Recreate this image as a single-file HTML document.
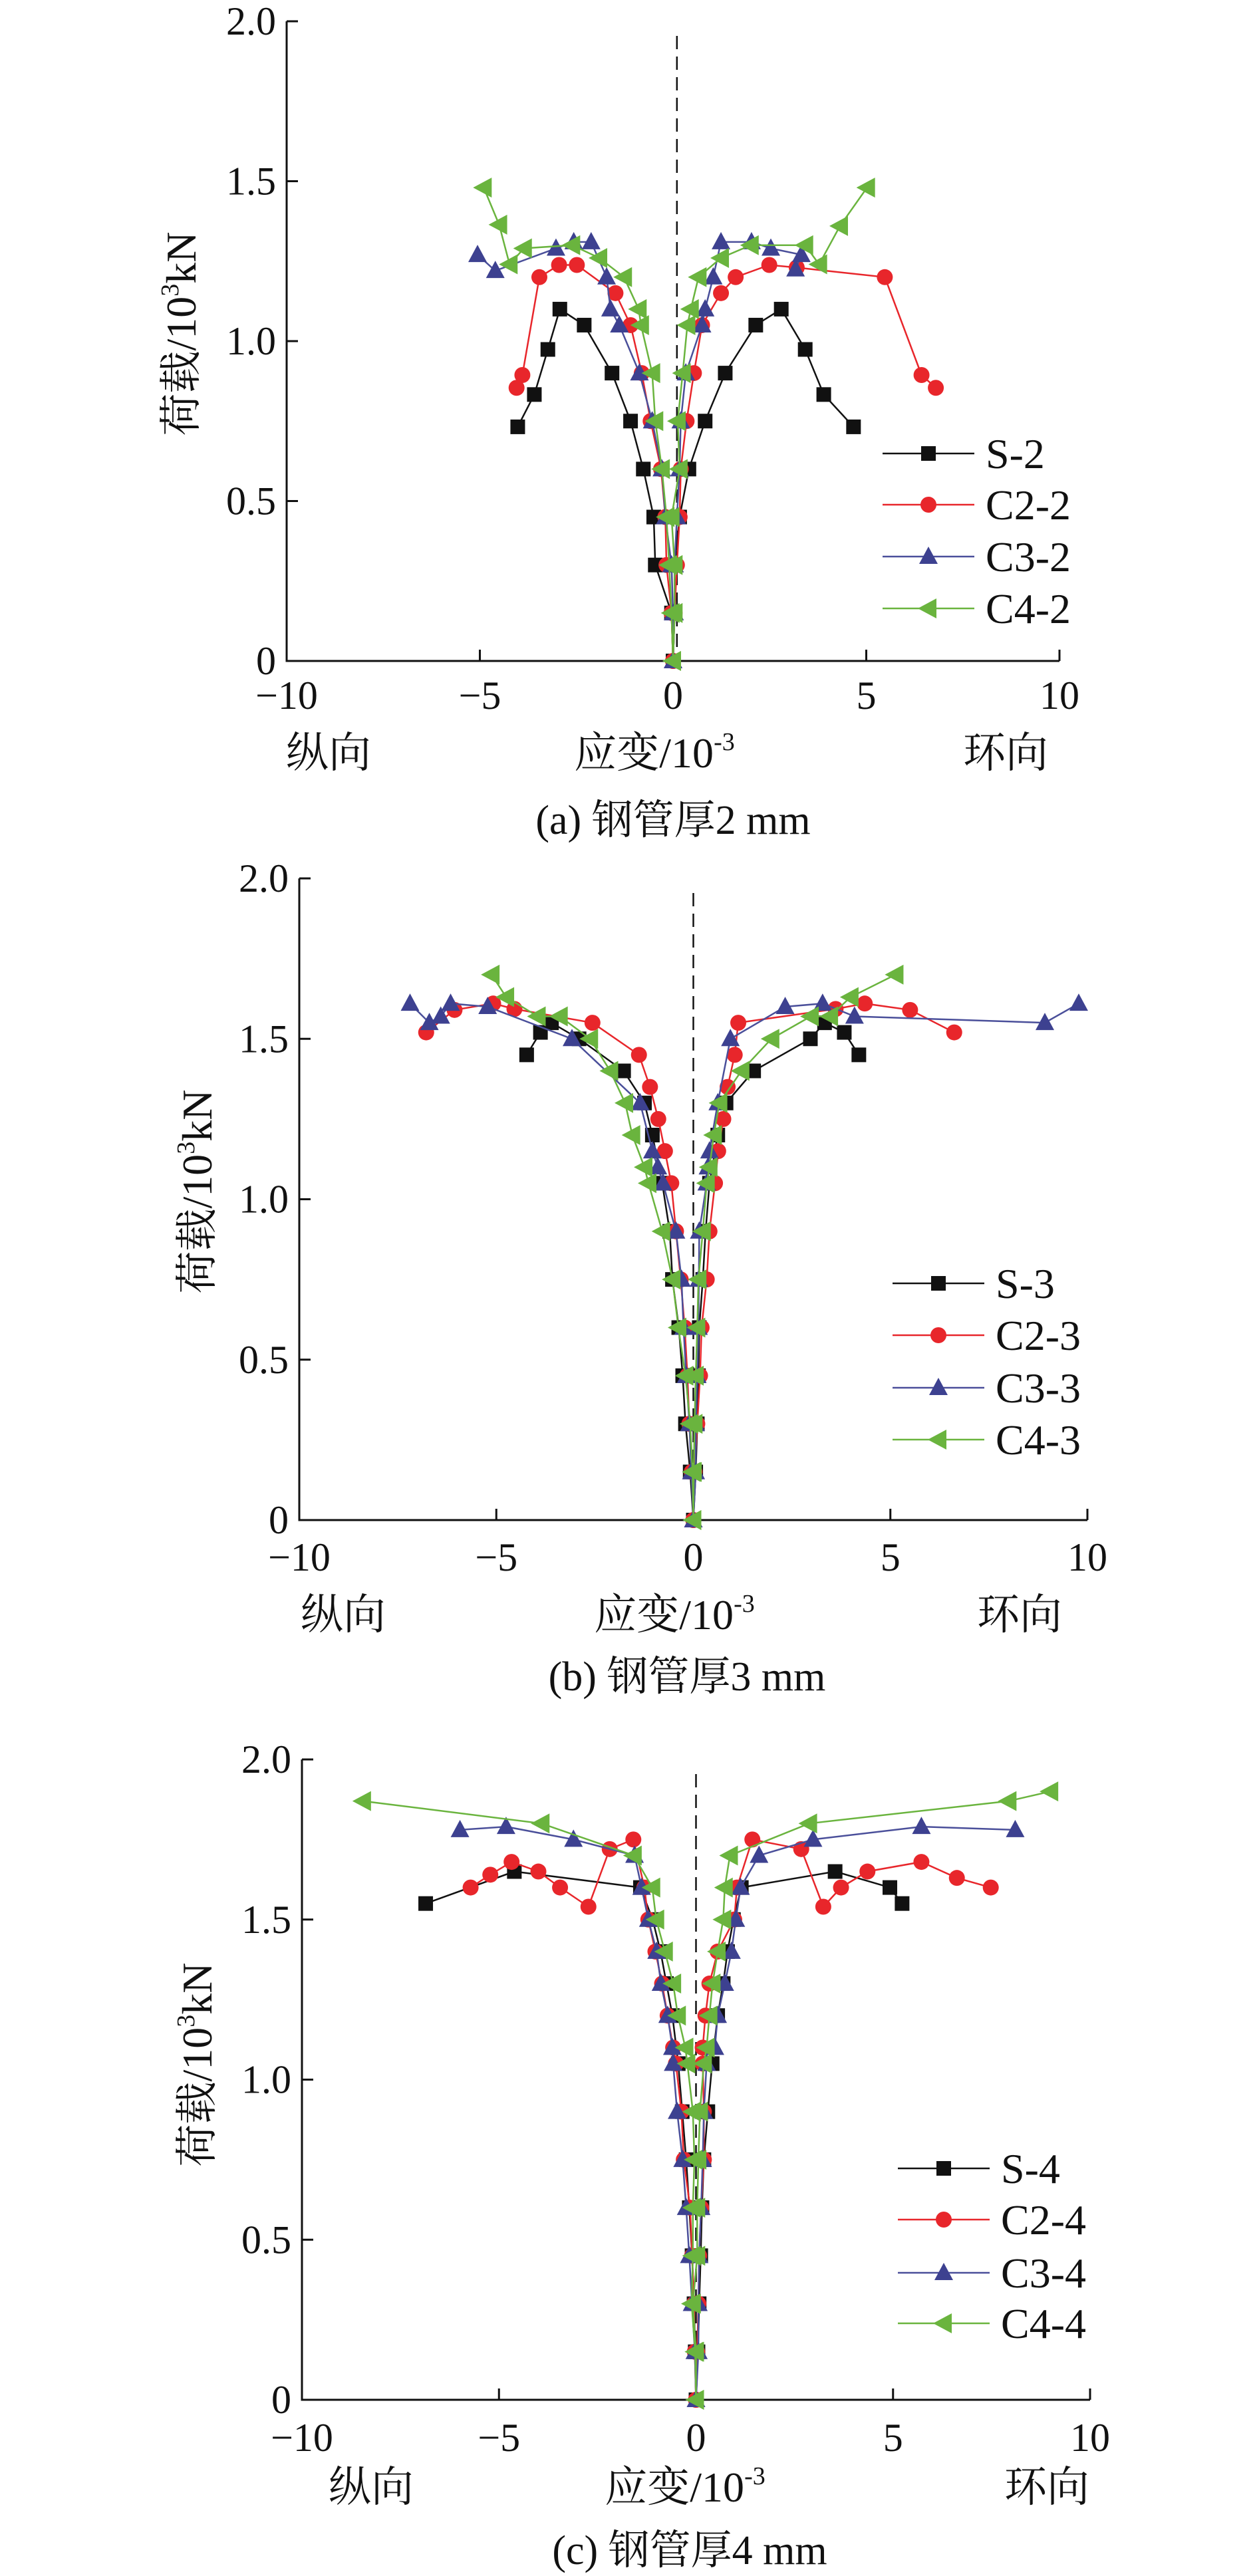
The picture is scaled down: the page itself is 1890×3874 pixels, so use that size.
<!DOCTYPE html>
<html><head><meta charset="utf-8">
<style>
html,body{margin:0;padding:0;background:#fff;}
svg{display:block;}
text{font-family:"Liberation Serif","Noto Serif CJK SC","Noto Sans CJK SC",serif;fill:#111;}
</style></head>
<body>
<svg id="fig" width="1890" height="3874" viewBox="0 0 1890 3874" xmlns="http://www.w3.org/2000/svg"></svg>
<script>
// ---------- shared axis data ----------
const xTicks = [-10, -5, 0, 5, 10];
const yTicks = [0, 0.5, 1.0, 1.5, 2.0];
const yTickLabels = ["0", "0.5", "1.0", "1.5", "2.0"];
const seriesNamesA = ["S-2", "C2-2", "C3-2", "C4-2"];
const seriesNamesB = ["S-3", "C2-3", "C3-3", "C4-3"];
const seriesNamesC = ["S-4", "C2-4", "C3-4", "C4-4"];
const captions = ["(a) 钢管厚2 mm", "(b) 钢管厚3 mm", "(c) 钢管厚4 mm"];

// ---------- chart (a) ----------
const aS_Lload = [0,0.15,0.3,0.45,0.6,0.75,0.9,1.05,1.1,0.974,0.833,0.732];
const aS_Lstrain = [0,-0.04,-0.46,-0.5,-0.77,-1.1,-1.58,-2.3,-2.93,-3.24,-3.59,-4.02];
const aS_Rload = [0,0.15,0.3,0.45,0.6,0.75,0.9,1.05,1.1,0.974,0.833,0.732];
const aS_Rstrain = [0,0.04,0.04,0.17,0.41,0.83,1.35,2.14,2.8,3.42,3.9,4.67];
const aC2_Lload = [0,0.15,0.3,0.45,0.6,0.75,0.9,1.05,1.15,1.238,1.238,1.2,0.894,0.854];
const aC2_Lstrain = [0,-0.04,-0.17,-0.2,-0.31,-0.58,-0.81,-1.1,-1.49,-2.49,-2.95,-3.46,-3.9,-4.05];
const aC2_Rload = [0,0.15,0.3,0.45,0.6,0.75,0.9,1.05,1.15,1.2,1.238,1.23,1.2,0.894,0.854];
const aC2_Rstrain = [0,0.04,0.1,0.17,0.2,0.35,0.54,0.75,1.24,1.62,2.49,3.2,5.48,6.43,6.8];
const aC3_Lload = [0,0.15,0.3,0.45,0.6,0.75,0.9,1.05,1.1,1.2,1.31,1.31,1.29,1.22,1.27];
const aC3_Lstrain = [0,0,-0.04,-0.2,-0.29,-0.54,-0.87,-1.39,-1.62,-1.72,-2.12,-2.57,-3.03,-4.6,-5.06];
const aC3_Rload = [0,0.15,0.3,0.45,0.6,0.75,0.9,1.05,1.1,1.2,1.31,1.31,1.29,1.27,1.225];
const aC3_Rstrain = [0,0.04,0.04,0.1,0.17,0.2,0.33,0.75,0.83,1.04,1.24,2.03,2.53,3.32,3.17];
const aC4_Lload = [0,0.15,0.3,0.45,0.6,0.75,0.9,1.05,1.1,1.2,1.26,1.3,1.29,1.24,1.364,1.48];
const aC4_Lstrain = [0,-0.04,-0.1,-0.17,-0.29,-0.46,-0.54,-0.83,-0.89,-1.27,-1.91,-2.61,-3.86,-4.23,-4.5,-4.9];
const aC4_Rload = [0,0.15,0.3,0.45,0.6,0.75,0.9,1.05,1.1,1.2,1.26,1.3,1.3,1.24,1.36,1.48];
const aC4_Rstrain = [0,0.04,0.04,-0.04,0.17,0.12,0.25,0.37,0.46,0.66,1.24,2.01,3.42,3.78,4.32,5.02];

// ---------- chart (b) ----------
const bS_Lload = [0,0.15,0.3,0.45,0.6,0.75,0.9,1.05,1.2,1.3,1.4,1.5,1.55,1.52,1.45];
const bS_Lstrain = [0,-0.08,-0.2,-0.27,-0.37,-0.53,-0.6,-0.79,-1.04,-1.24,-1.77,-2.9,-3.6,-3.88,-4.23];
const bS_Rload = [0,0.15,0.3,0.45,0.6,0.75,0.9,1.05,1.2,1.3,1.4,1.5,1.55,1.52,1.45];
const bS_Rstrain = [0,0.06,0.1,0.13,0.15,0.24,0.31,0.41,0.62,0.83,1.53,2.97,3.33,3.83,4.2];
const bC2_Lload = [0,0.15,0.3,0.45,0.6,0.75,0.9,1.05,1.15,1.25,1.35,1.45,1.55,1.593,1.61,1.59,1.52];
const bC2_Lstrain = [0,-0.04,-0.1,-0.15,-0.22,-0.32,-0.44,-0.56,-0.72,-0.89,-1.1,-1.38,-2.56,-4.54,-5.08,-6.06,-6.78];
const bC2_Rload = [0,0.15,0.3,0.45,0.6,0.75,0.9,1.05,1.15,1.25,1.35,1.45,1.55,1.593,1.61,1.59,1.52];
const bC2_Rstrain = [0,0.03,0.1,0.17,0.21,0.34,0.41,0.55,0.63,0.76,0.87,1.05,1.14,3.61,4.35,5.5,6.62];
const bC3_Lload = [0,0.15,0.3,0.45,0.6,0.75,0.9,1.05,1.1,1.15,1.3,1.5,1.6,1.61,1.57,1.55,1.61];
const bC3_Lstrain = [0,-0.05,-0.1,-0.18,-0.25,-0.3,-0.44,-0.77,-0.9,-1.04,-1.35,-3.08,-5.22,-6.16,-6.41,-6.7,-7.19];
const bC3_Rload = [0,0.15,0.3,0.45,0.6,0.75,0.9,1.05,1.1,1.15,1.3,1.5,1.6,1.61,1.57,1.55,1.61];
const bC3_Rstrain = [0,0.06,0.06,0.1,0.13,0.14,0.15,0.34,0.37,0.41,0.62,0.94,2.33,3.28,4.09,8.92,9.78];
const bC4_Lload = [0,0.15,0.3,0.45,0.6,0.75,0.9,1.05,1.1,1.2,1.3,1.4,1.5,1.57,1.57,1.63,1.7];
const bC4_Lstrain = [0,-0.02,-0.08,-0.2,-0.38,-0.53,-0.79,-1.14,-1.24,-1.55,-1.73,-2.11,-2.62,-3.39,-3.95,-4.75,-5.12];
const bC4_Rload = [0,0.15,0.3,0.45,0.6,0.75,0.9,1.05,1.1,1.2,1.3,1.4,1.5,1.57,1.57,1.63,1.7];
const bC4_Rstrain = [0,0.01,0.03,0.06,0.1,0.13,0.24,0.34,0.41,0.52,0.66,1.22,1.98,2.98,3.47,3.99,5.13];

// ---------- chart (c) ----------
const cS_Lload = [0,0.15,0.3,0.45,0.6,0.75,0.9,1.05,1.2,1.3,1.4,1.5,1.6,1.65,1.55];
const cS_Lstrain = [0,-0.02,-0.05,-0.1,-0.17,-0.25,-0.35,-0.45,-0.6,-0.75,-0.9,-1.1,-1.41,-4.61,-6.86];
const cS_Rload = [0,0.15,0.3,0.45,0.6,0.75,0.9,1.05,1.2,1.3,1.4,1.5,1.6,1.65,1.6,1.55];
const cS_Rstrain = [0,0.05,0.08,0.12,0.15,0.2,0.3,0.41,0.55,0.69,0.8,0.95,1.15,3.53,4.92,5.23];
const cC2_Lload = [0,0.15,0.3,0.45,0.6,0.75,0.9,1.05,1.1,1.2,1.3,1.4,1.5,1.6,1.75,1.72,1.54,1.6,1.65,1.68,1.64,1.6];
const cC2_Lstrain = [0,-0.03,-0.05,-0.1,-0.15,-0.31,-0.37,-0.51,-0.58,-0.72,-0.86,-1.03,-1.21,-1.31,-1.59,-2.19,-2.73,-3.45,-4.0,-4.68,-5.22,-5.72];
const cC2_Rload = [0,0.15,0.3,0.45,0.6,0.75,0.9,1.05,1.1,1.2,1.3,1.4,1.5,1.6,1.75,1.72,1.54,1.6,1.65,1.68,1.63,1.6];
const cC2_Rstrain = [0,0.03,0.06,0.08,0.13,0.2,0.2,0.17,0.17,0.24,0.34,0.55,0.97,1.04,1.43,2.67,3.23,3.68,4.35,5.72,6.62,7.48];
const cC3_Lload = [0,0.15,0.3,0.45,0.6,0.75,0.9,1.05,1.1,1.2,1.3,1.4,1.5,1.6,1.7,1.75,1.79,1.78];
const cC3_Lstrain = [0,-0.03,-0.1,-0.17,-0.25,-0.34,-0.48,-0.58,-0.6,-0.72,-0.89,-1.0,-1.21,-1.38,-1.56,-3.11,-4.82,-5.99];
const cC3_Rload = [0,0.15,0.3,0.45,0.6,0.75,0.9,1.05,1.1,1.2,1.3,1.4,1.5,1.6,1.7,1.75,1.79,1.78];
const cC3_Rstrain = [0,0.06,0.06,0.08,0.13,0.17,0.2,0.27,0.48,0.55,0.73,0.9,1.01,1.13,1.6,2.97,5.72,8.1];
const cC4_Lload = [0,0.15,0.3,0.45,0.6,0.75,0.9,1.05,1.1,1.2,1.3,1.4,1.5,1.6,1.7,1.8,1.87];
const cC4_Lstrain = [0,-0.02,-0.11,-0.08,-0.08,-0.04,-0.08,-0.22,-0.27,-0.46,-0.58,-0.79,-1.01,-1.11,-1.58,-3.92,-8.45];
const cC4_Rload = [0,0.15,0.3,0.45,0.6,0.75,0.9,1.05,1.1,1.2,1.3,1.4,1.5,1.6,1.7,1.8,1.87,1.9];
const cC4_Rstrain = [0,0,-0.08,0.03,0.03,0.06,0.1,0.2,0.27,0.34,0.42,0.55,0.69,0.73,0.86,2.87,7.93,8.99];

const NS = "http://www.w3.org/2000/svg";
const svg = document.getElementById('fig');
const styles = [
  {line:"#111111", fill:"#111111", marker:"square"},
  {line:"#e8262b", fill:"#e8262b", marker:"circle"},
  {line:"#4a4f9a", fill:"#3d4190", marker:"triangle"},
  {line:"#6ab43e", fill:"#6ab43e", marker:"tleft"}
];
function mk(tag, attrs, parent){
  const e = document.createElementNS(NS, tag);
  for (const k in attrs) e.setAttribute(k, attrs[k]);
  (parent||svg).appendChild(e);
  return e;
}
function drawMarker(g, type, x, y, fill){
  let m;
  if (type === "square") m = mk('rect', {x:x-11, y:y-11, width:22, height:22, fill:fill}, g);
  else if (type === "circle") m = mk('circle', {cx:x, cy:y, r:12, fill:fill}, g);
  else if (type === "triangle") m = mk('polygon', {points:`${x},${y-15} ${x-14},${y+11} ${x+14},${y+11}`, fill:fill}, g);
  else m = mk('polygon', {points:`${x-16},${y} ${x+12},${y-15} ${x+12},${y+15}`, fill:fill}, g);
  
  
  return m;
}

function chart(id, geo, names, series, caption){
  const g = mk('g', {});
  
  
  const X = v => geo.x0 + (v + 10) / 20 * (geo.x1 - geo.x0);
  const Y = v => geo.yb - v / 2 * (geo.yb - geo.yt);
  // axes
  const ax = mk('path', {d:`M${X(-10)},${Y(2)} L${X(-10)},${Y(0)} L${X(10)},${Y(0)}`, fill:"none", stroke:"#111", "stroke-width":3}, g);
  
  
  xTicks.forEach(t => {
    const tk = mk('line', {x1:X(t), x2:X(t), y1:Y(0), y2:Y(0)-17, stroke:"#111", "stroke-width":3}, g);
    
    
    const lb = mk('text', {x:X(t), y:geo.xly, "font-size":60, "text-anchor":"middle"}, g);
    lb.textContent = (t < 0 ? "\u2212" + Math.abs(t) : String(t));
    
    
  });
  yTicks.forEach((t, i) => {
    const tk = mk('line', {x1:X(-10), x2:X(-10)+17, y1:Y(t), y2:Y(t), stroke:"#111", "stroke-width":3}, g);
    
    
    const lb = mk('text', {x:X(-10)-16, y:Y(t)+20, "font-size":60, "text-anchor":"end"}, g);
    lb.textContent = yTickLabels[i];
    
    
  });
  // dashed reference
  const dl = mk('line', {x1:X(geo.dash), x2:X(geo.dash), y1:Y(2)+22, y2:Y(0), stroke:"#111", "stroke-width":2.5, "stroke-dasharray":"20 11"}, g);
  
  
  // series
  series.forEach((s, si) => {
    const st = styles[si];
    const sg = mk('g', {}, g);
    
    
    [[s[0], s[1]], [s[2], s[3]]].forEach(([ld, sn]) => {
      const pts = ld.map((v, i) => `${X(sn[i]).toFixed(1)},${Y(v).toFixed(1)}`).join(' ');
      const pl = mk('polyline', {points:pts, fill:"none", stroke:st.line, "stroke-width":2.5}, sg);
      
      
      ld.forEach((v, i) => drawMarker(sg, st.marker, X(sn[i]), Y(v), st.fill));
    });
  });
  // legend
  const lg = mk('g', {}, g);
  
  
  names.forEach((n, i) => {
    const y = geo.legY[i];
    const eg = mk('g', {}, lg);
    
    
    mk('line', {x1:geo.legX, x2:geo.legX + 138, y1:y, y2:y, stroke:styles[i].line, "stroke-width":2.5}, eg);
    drawMarker(eg, styles[i].marker, geo.legX + 69, y, styles[i].fill);
    const t = mk('text', {x:geo.legX + 155, y:y + 22, "font-size":64}, eg);
    t.textContent = n;
  });
  // axis texts
  const t1 = mk('text', {x:geo.zx, y:geo.cny, "font-size":64, "text-anchor":"middle"}, g);
  t1.textContent = "纵向";
  
  
  const t2 = mk('text', {x:geo.yx, y:geo.cny, "font-size":64, "text-anchor":"middle"}, g);
  t2.innerHTML = '应变/10<tspan font-size="38" dy="-26">-3</tspan>';
  
  
  const t3 = mk('text', {x:geo.hx, y:geo.cny, "font-size":64, "text-anchor":"middle"}, g);
  t3.textContent = "环向";
  
  
  const yt = mk('text', {x:0, y:0, "font-size":64, "text-anchor":"middle", transform:`translate(${geo.ytx},${geo.yty}) rotate(-90)`}, g);
  yt.innerHTML = '荷载/10<tspan font-size="38" dy="-26">3</tspan><tspan dy="26">kN</tspan>';
  
  
  const cp = mk('text', {x:geo.capx, y:geo.capy, "font-size":62, "text-anchor":"middle"}, g);
  cp.textContent = caption;
  
  
}

chart('a', {x0:431, x1:1593, yb:994, yt:32, dash:0.1, xly:1066, cny:1154, zx:494, yx:984, hx:1512, ytx:294, yty:502,
  capx:1012, capy:1254, legX:1327, legY:[682,759,837,915]}, seriesNamesA,
  [[aS_Lload,aS_Lstrain,aS_Rload,aS_Rstrain],[aC2_Lload,aC2_Lstrain,aC2_Rload,aC2_Rstrain],
   [aC3_Lload,aC3_Lstrain,aC3_Rload,aC3_Rstrain],[aC4_Lload,aC4_Lstrain,aC4_Rload,aC4_Rstrain]], captions[0]);
chart('b', {x0:450, x1:1635, yb:2286, yt:1321, dash:0, xly:2362, cny:2450, zx:516, yx:1014, hx:1533, ytx:318, yty:1792,
  capx:1033, capy:2542, legX:1342, legY:[1930,2008,2087,2165]}, seriesNamesB,
  [[bS_Lload,bS_Lstrain,bS_Rload,bS_Rstrain],[bC2_Lload,bC2_Lstrain,bC2_Rload,bC2_Rstrain],
   [bC3_Lload,bC3_Lstrain,bC3_Rload,bC3_Rstrain],[bC4_Lload,bC4_Lstrain,bC4_Rload,bC4_Rstrain]], captions[1]);
chart('c', {x0:454, x1:1639, yb:3609, yt:2646, dash:0, xly:3686, cny:3762, zx:558, yx:1030, hx:1574, ytx:318, yty:3105,
  capx:1037, capy:3856, legX:1350, legY:[3261,3338,3418,3494]}, seriesNamesC,
  [[cS_Lload,cS_Lstrain,cS_Rload,cS_Rstrain],[cC2_Lload,cC2_Lstrain,cC2_Rload,cC2_Rstrain],
   [cC3_Lload,cC3_Lstrain,cC3_Rload,cC3_Rstrain],[cC4_Lload,cC4_Lstrain,cC4_Rload,cC4_Rstrain]], captions[2]);
</script>
</body></html>
